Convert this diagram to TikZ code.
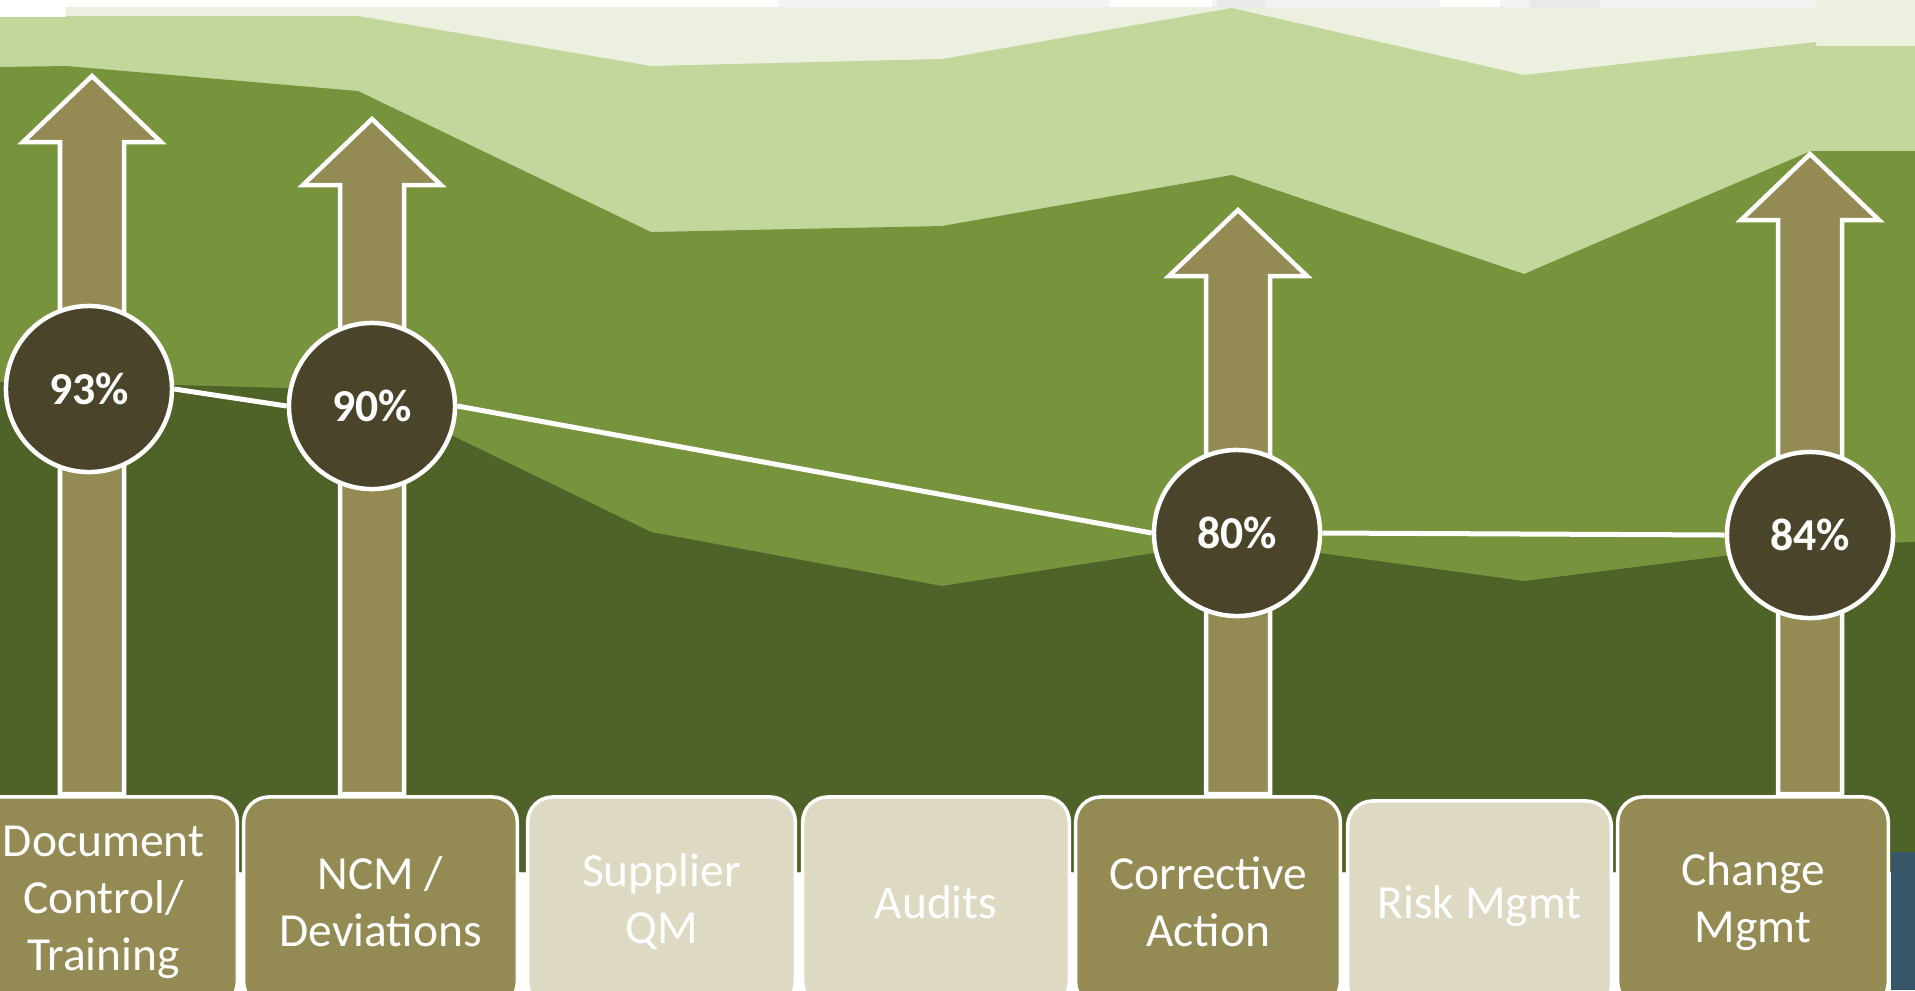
\documentclass[tikz,border=0pt]{standalone}
\usepackage{fontspec}
\setmainfont{Carlito}
\usepackage{tikz}
\definecolor{palegreen}{HTML}{EBF1DE}
\definecolor{lightgreen}{HTML}{C3D69B}
\definecolor{midgreen}{HTML}{77933C}
\definecolor{darkgreen}{HTML}{4F6228}
\definecolor{olive}{HTML}{948A54}
\definecolor{sand}{HTML}{DDD9C3}
\definecolor{darkbrown}{HTML}{4A452A}
\definecolor{slate}{HTML}{375669}
\tikzset{pct/.style={circle,draw=white,line width=0.045cm,fill=darkbrown,text=white,minimum size=1.66cm,inner sep=0pt,font=\fontsize{13}{15}\selectfont\bfseries}}
\tikzset{area/.style={rectangle,draw=white,line width=0.035cm,rounded corners=0.25cm,text=white,minimum height=2.1cm,align=center,inner sep=0pt,font=\fontsize{13.5}{16.2}\selectfont}}
\tikzset{uparrow/.style={draw=white,line width=0.045cm,fill=olive,line join=miter}}
\tikzset{trend/.style={draw=white,line width=0.05cm}}

\begin{document}
\begin{tikzpicture}
[x=0.01cm, y=-0.01cm]
\useasboundingbox (0,0) rectangle (1915,990);
\fill[white] (0,0) rectangle (1915,990);

% strip at the top
\fill[black!5] (778,0) rectangle (1816,7);
\fill[white] (1110,0) rectangle (1212,7);
\fill[black!9] (1217,0) rectangle (1265,7);
\fill[white] (1440,0) rectangle (1500,7);
\fill[black!9] (1530,0) rectangle (1600,7);

% stacked areas
\fill[palegreen] (66,7) -- (1816,7) -- (1816,0) -- (1915,0) -- (1915,872) -- (66,872) -- cycle;
\fill[lightgreen] (0,17) -- (66,17) -- (66,16) -- (358,16) -- (651,66) -- (942,59) -- (1232,8) -- (1524,75) -- (1816,42) -- (1816,46) -- (1915,46) -- (1915,872) -- (0,872) -- cycle;
\fill[midgreen] (0,67) -- (66,66) -- (358,91) -- (651,232) -- (942,226) -- (1232,175) -- (1524,274) -- (1811,151) -- (1915,151) -- (1915,872) -- (0,872) -- cycle;
\fill[darkgreen] (0,382) -- (66,382) -- (358,390) -- (651,532) -- (942,586) -- (1232,541) -- (1524,581) -- (1811,545) -- (1915,542) -- (1915,872) -- (0,872) -- cycle;
\fill[slate] (1891,852) rectangle (1915,990);

\foreach \ax/\tip in {92/73, 372/116, 1238/207, 1810/151}
  \draw[uparrow] ({\ax-32},794) -- ({\ax-32},{\tip+69}) -- ({\ax-69},{\tip+69}) -- (\ax,{\tip+3})
    -- ({\ax+69},{\tip+69}) -- ({\ax+32},{\tip+69}) -- ({\ax+32},794) -- cycle;

\node (c93) at (89,389)[pct]{93\%};
\node (c90) at (372,406)[pct]{90\%};
\node (c80) at (1237,533)[pct]{80\%};
\node (c84) at (1810,535)[pct]{84\%};

\draw[trend] (c93.east) -- (c90.west);
\draw[trend] (c90.east) -- (c80.west);
\draw[trend] (c80.east) -- (c84.west);

\node (doc) at (103.5,902)[area,fill=olive,minimum width=2.675cm]{Document\\Control/\\Training};
\node (ncm) at (380.5,902)[area,fill=olive,minimum width=2.735cm]{NCM /\\Deviations};
\node (sup) at (661.5,902)[area,fill=sand,minimum width=2.675cm]{Supplier\\QM};
\node (aud) at (936,902)[area,fill=sand,minimum width=2.665cm]{Audits};
\node (cor) at (1208,902)[area,fill=olive,minimum width=2.645cm]{Corrective\\Action};
\node (risk) at (1479.5,906)[area,fill=sand,minimum width=2.635cm]{Risk Mgmt};
\node (chg) at (1753,902)[area,fill=olive,minimum width=2.705cm]{Change\\Mgmt};
\end{tikzpicture}
\end{document}
